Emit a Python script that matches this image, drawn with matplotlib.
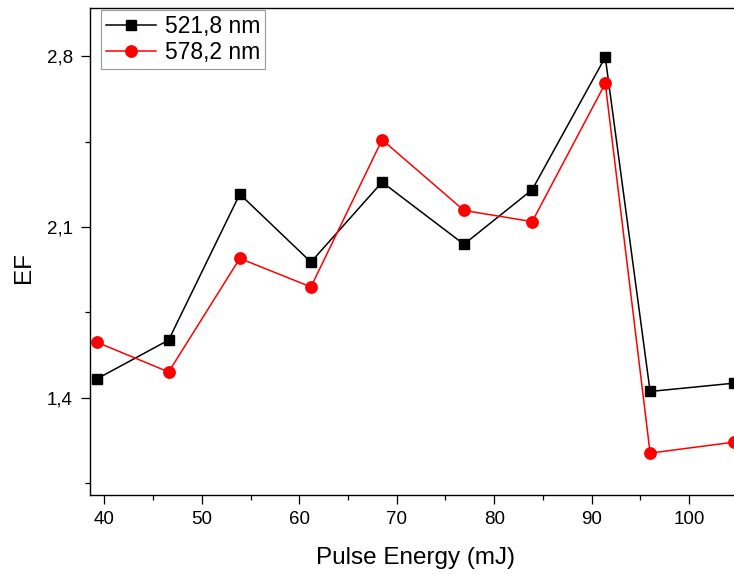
import numpy as np
import matplotlib
matplotlib.use("Agg")
import matplotlib.pyplot as plt
from matplotlib.ticker import FixedLocator, FuncFormatter

# --- Data ---
pulse_energy = [39.3, 46.6, 53.9, 61.2, 68.5, 76.9, 83.9, 91.4, 96.0, 104.6]
ef_521 = [1.478, 1.636, 2.235, 1.956, 2.284, 2.029, 2.253, 2.797, 1.425, 1.459]
ef_578 = [1.626, 1.505, 1.971, 1.854, 2.458, 2.168, 2.122, 2.689, 1.172, 1.217]
series_labels = ["521,8 nm", "578,2 nm"]
x_ticks = [40, 50, 60, 70, 80, 90, 100]
x_minor = [45, 55, 65, 75, 85, 95, 105]
y_ticks = [1.4, 2.1, 2.8]
y_minor = [1.05, 1.75, 2.45]

plt.rcParams['font.family'] = ['Liberation Sans', 'DejaVu Sans']

fig = plt.figure(figsize=(7.34, 5.74), dpi=100)
# axes runs past the right edge of the figure (reference is cropped there)
ax = fig.add_axes([0.1226, 0.1376, 0.949, 0.849])

ax.plot(pulse_energy, ef_521, color='black', marker='s', markersize=7.2,
        linewidth=1.1, label=series_labels[0], clip_on=False)
ax.plot(pulse_energy, ef_578, color='#ff0000', marker='o', markersize=8.2,
        linewidth=1.1, label=series_labels[1], clip_on=False)

ax.set_xlim(38.53, 110)
ax.set_ylim(1.0, 3.0)

ax.xaxis.set_major_locator(FixedLocator(x_ticks))
ax.xaxis.set_minor_locator(FixedLocator(x_minor))
ax.yaxis.set_major_locator(FixedLocator(y_ticks))
ax.yaxis.set_minor_locator(FixedLocator(y_minor))
ax.yaxis.set_major_formatter(FuncFormatter(lambda v, p: f"{v:.1f}".replace('.', ',')))

ax.tick_params(which='major', direction='out', length=6.5, width=0.9, labelsize=13.5)
ax.tick_params(which='minor', direction='out', length=3.5, width=0.9)
ax.tick_params(axis='x', which='major', pad=5)
ax.tick_params(axis='y', which='major', pad=6)
for sp in ax.spines.values():
    sp.set_linewidth(1.0)

ax.set_xlabel('Pulse Energy (mJ)', fontsize=17.5)
ax.set_ylabel('EF', fontsize=17.5)
ax.xaxis.set_label_coords(0.468, -0.107)
ax.yaxis.set_label_coords(-0.079, 0.467)

leg = ax.legend(loc='upper left', bbox_to_anchor=(0.016, 0.995), fontsize=16.5,
                frameon=True, fancybox=False, edgecolor='#808080',
                handlelength=2.2, handletextpad=0.4, borderpad=0.2,
                labelspacing=0.15, borderaxespad=0.0)
leg.get_frame().set_linewidth(0.8)

fig.savefig('out.png', dpi=100)
